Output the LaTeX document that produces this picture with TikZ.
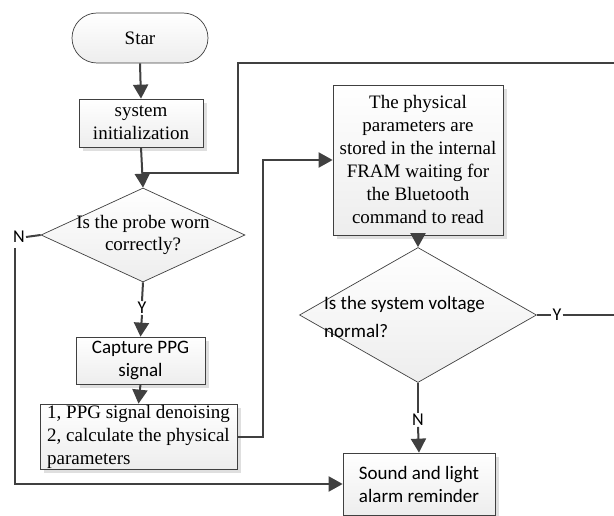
\documentclass[tikz,border=0pt]{standalone}
\usepackage{fontspec}
\setmainfont{Liberation Serif}
\newfontfamily\calib{Carlito}
\usetikzlibrary{arrows.meta,shapes.geometric,shadows}
\definecolor{ln}{HTML}{404040}
\begin{document}
\begin{tikzpicture}[x=1pt,y=-1pt,
 conn/.style={draw=ln, line width=2pt},
 arr/.style={conn, -{Triangle[length=14pt,width=15pt]}},
 fillbase/.style={draw=ln, line width=0.7pt, top color=white, bottom color=gray!14, inner sep=0pt},
 shad/.style={drop shadow={shadow xshift=4pt,shadow yshift=-4pt,fill=gray!25,opacity=1}},
 sbox/.style={fillbase, shad, rectangle, font=\fontsize{19}{23}\selectfont, align=center},
 cbox/.style={fillbase, shad, rectangle, font=\calib\fontsize{19}{23}\selectfont, align=center},
 dia/.style={fillbase, diamond},
 yn/.style={font=\calib\fontsize{18}{20}\selectfont, inner sep=1pt}
]
\useasboundingbox (0,0) rectangle (614,516);
\clip (0,0) rectangle (614,516);
\fill[white] (0,0) rectangle (614,516);

% nodes
\node[fillbase, rounded corners=25pt, minimum width=136pt, minimum height=50pt,
      font=\fontsize{19}{23}\selectfont] (star) at (140,38) {Star};
\node[sbox, minimum width=124pt, minimum height=48pt] (init) at (141,123) {system\\initialization};
\node[dia, minimum width=204pt, minimum height=94pt,
      label={[font=\fontsize{19}{22}\selectfont, align=center, inner sep=0pt]center:{Is the probe worn\\correctly?}}] (d1) at (143,235) {};
\node[cbox, minimum width=129pt, minimum height=47pt] (cap) at (140.5,360.5) {Capture PPG\\signal};
\node[sbox, align=left, minimum width=197pt, minimum height=65pt] (den) at (138.5,436.5)
  {1, PPG signal denoising\\2, calculate the physical\\parameters};
\node[sbox, minimum width=170pt, minimum height=150pt] (fram) at (418,160)
  {The physical\\parameters are\\stored in the internal\\FRAM waiting for\\the Bluetooth\\command to read};
\node[dia, minimum width=237pt, minimum height=135pt] (d2) at (418,315) {};
\node[font=\calib\fontsize{19}{28}\selectfont, align=left, anchor=west, inner sep=0pt] (d2t) at (324,317)
  {Is the system voltage\\normal?};
\node[cbox, minimum width=152pt, minimum height=62pt] (alarm) at (419,484) {Sound and light\\alarm reminder};

% labels
\node[yn] (n1) at (19,237) {N};
\node[yn] (y1) at (142,308) {Y};
\node[yn] (y2) at (557,315) {Y};
\node[yn] (n2) at (418,420) {N};

\coordinate (e1) at (620,315);
\coordinate (e2) at (620,63);
\coordinate (t1) at (238,63);
\coordinate (t2) at (238,173);
\coordinate (t3) at (143,173);

% connectors
\draw[arr] (star.south) -- (init.north);
\draw[conn] (y2.east) -- (e1) -- (e2) -- (t1) -- (t2) -- (t3);
\draw[arr] (init.south) -- (d1.north);
\draw[conn] (d1.west) -- (n1.east);
\draw[arr] ([xshift=-4pt]n1.south) ++(0,4) |- (alarm.west);
\draw[conn] (d1.south) -- (y1.north);
\draw[arr] (y1.south) -- (cap.north);
\draw[arr] (cap.south) -- (den.north);
\draw[arr] (den.east) -- ++(26,0) |- (fram.west);
\draw[arr] (fram.south) -- (d2.north);
\draw[conn] (d2.east) -- (y2.west);
\draw[conn] (d2.south) -- (n2.north);
\draw[arr] (n2.south) -- (alarm.north);
\end{tikzpicture}
\end{document}
